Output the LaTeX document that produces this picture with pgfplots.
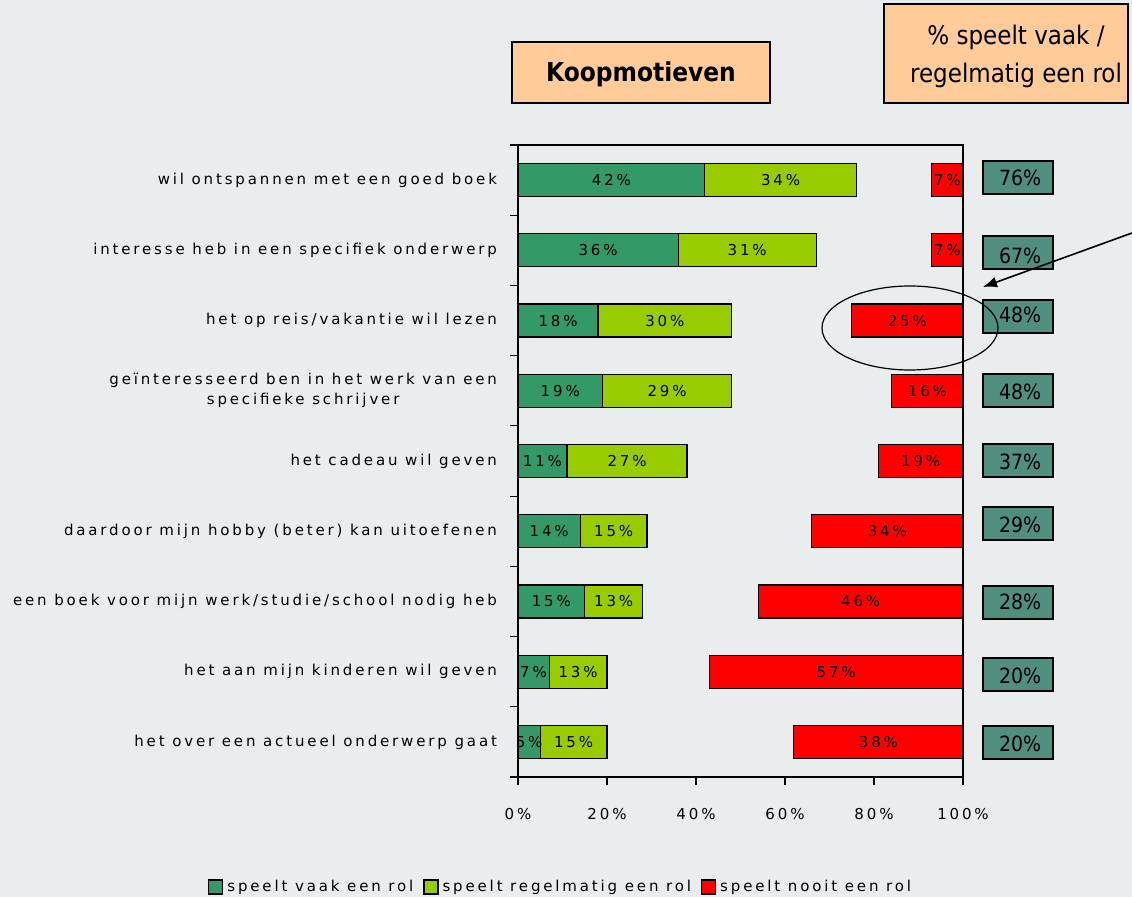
\documentclass[border=0pt]{standalone}
\usepackage{pgfplots}
\usepackage{pgfplotstable}
\pgfplotsset{compat=1.18}
\usetikzlibrary{arrows.meta}
\usepackage{fontspec}
\setmainfont{DejaVu Sans}
\newfontfamily\spf[LetterSpace=19]{DejaVu Sans}
\newfontfamily\tah{DejaVu Sans Condensed}
\definecolor{bg}{RGB}{233,237,238}
\definecolor{dg}{RGB}{51,153,102}
\definecolor{lg}{RGB}{153,204,0}
\definecolor{rd}{RGB}{255,0,0}
\definecolor{tbox}{RGB}{80,143,127}
\definecolor{peach}{RGB}{255,204,153}

\pgfplotstableread{
y vaak regel gap nooit
1 42 34 17 7
2 36 31 26 7
3 18 30 27 25
4 19 29 36 16
5 11 27 43 19
6 14 15 37 34
7 15 13 26 46
8 7 13 23 57
9 5 15 42 38
}\data

\begin{document}
\begin{tikzpicture}
\begin{scope}[x=0.5pt,y=-0.5pt]
\fill[bg] (0,0) rectangle (1132,897);
\end{scope}
\begin{axis}[
  at={(259pt,-388.5pt)}, anchor=south west,
  width=222.5pt, height=316pt, scale only axis,
  xbar stacked, bar width=16.5pt,
  xmin=0, xmax=100, ymin=0.5, ymax=9.5, y dir=reverse,
  axis background/.style={fill=bg},
  axis line style={black, line width=0.6pt},
  tick align=outside, xtick pos=bottom, ytick pos=left,
  major tick length=4pt,
  tick style={black, line width=0.6pt},
  xtick={0,20,40,60,80,100},
  xticklabels={0\%,20\%,40\%,60\%,80\%,100\%},
  xticklabel style={font=\spf\fontsize{7.5}{8}\selectfont, yshift=-8pt},
  ytick={0.5,1.5,2.5,3.5,4.5,5.5,6.5,7.5,8.5,9.5},
  y tick label as interval,
  yticklabels={wil ontspannen met een goed boek,
    interesse heb in een specifiek onderwerp,
    het op reis/vakantie wil lezen,
    {geïnteresseerd ben in het werk van een\\specifieke schrijver},
    het cadeau wil geven,
    daardoor mijn hobby (beter) kan uitoefenen,
    een boek voor mijn werk/studie/school nodig heb,
    het aan mijn kinderen wil geven,
    het over een actueel onderwerp gaat},
  yticklabel style={align=center, font=\spf\fontsize{7.5}{10}\selectfont, xshift=-3pt},
  /pgf/number format/assume math mode=true,
  legend image code/.code={\draw[#1, draw=black, line width=0.6pt] (0pt,-3.5pt) rectangle (7pt,3.5pt);},
  legend style={at={(0.098,-0.174)}, anchor=center, draw=none, fill=none,
    font=\spf\fontsize{7.5}{8}\selectfont, legend columns=-1,
    /tikz/every even column/.append style={column sep=3pt}},
  ctr/.style={nodes near coords={\pgfmathprintnumber{\rawx}\%},
    visualization depends on=rawx \as \rawx,
    every node near coord/.append style={anchor=center,
      font=\spf\fontsize{7.5}{8}\selectfont, text=black}},
]
\addplot[fill=dg, draw=black, line width=0.6pt, ctr] table[x=vaak, y=y]{\data};
\addplot[fill=lg, draw=black, line width=0.6pt, ctr] table[x=regel, y=y]{\data};
\addplot[fill=none, draw=none] table[x=gap, y=y]{\data};
\addplot[fill=rd, draw=black, line width=0.6pt, ctr] table[x=nooit, y=y]{\data};
\legend{speelt vaak een rol, speelt regelmatig een rol,, speelt nooit een rol}
\end{axis}
\begin{scope}[x=0.5pt,y=-0.5pt]
% title boxes
\draw[fill=peach, line width=0.7pt] (512,42) rectangle (770,103);
\node[font=\tah\bfseries\fontsize{13}{15}\selectfont] at (641,74) {Koopmotieven};
\draw[fill=peach, line width=0.7pt] (884,4) rectangle (1128,103);
\node[font=\tah\fontsize{12.8}{19}\selectfont, align=center] at (1016,56) {\% speelt vaak /\\regelmatig een rol};
% total boxes
\foreach \yt/\yc/\v in {161/178/76,236/256/67,300/315/48,374/392/48,444/462/37,507/525/29,586/602/28,658/676/20,726/744/20}{
  \draw[fill=tbox, line width=0.7pt] (983,\yt) rectangle (1053,\yt+33);
  \node[font=\tah\fontsize{10.5}{12}\selectfont] at (1020,\yc) {\v\%};
}
% ellipse and arrow
\draw[line width=0.6pt] (910,328) ellipse [x radius=88, y radius=42];
\draw[line width=0.8pt, -{Latex[length=7pt,width=5.5pt]}] (1132,233) -- (983,287);
\pgfresetboundingbox
\path[use as bounding box] (0,0) rectangle (1132,897);
\end{scope}
\end{tikzpicture}
\end{document}
